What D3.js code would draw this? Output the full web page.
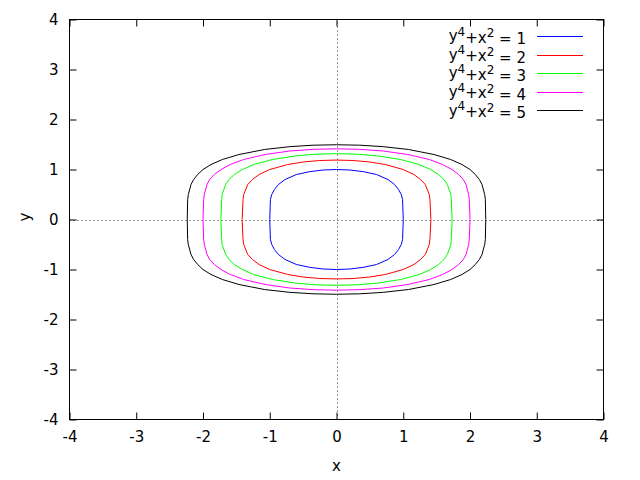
<!DOCTYPE html>
<html><head><meta charset="utf-8">
<script src="https://cdn.jsdelivr.net/npm/d3@7"></script>
<style>body{margin:0;background:#fff}svg{display:block}text{font-family:"DejaVu Sans",sans-serif;font-size:15px;fill:#000}</style>
</head><body>
<script>
// Contour levels (y^4 + x^2 = c)
const levels = [1, 2, 3, 4, 5];
const colors = ["#0000ff", "#ff0000", "#00ff00", "#ff00ff", "#000000"];
const xTicks = [-4, -3, -2, -1, 0, 1, 2, 3, 4];
const yTicks = [-4, -3, -2, -1, 0, 1, 2, 3, 4];
// First-quadrant points of each curve (x, y); curves are symmetric
const q1 = [[1.00,0],[0.99,0.4],[0.97,0.5],[0.93,0.6],[0.87,0.7],[0.77,0.8],[0.6,0.9],[0.4,0.957],[0.2,0.99],[0,1.0]];
const q2 = [[1.414,0],[1.40,0.4],[1.39,0.5],[1.33,0.7],[1.26,0.8],[1.16,0.9],[1.0,1.0],[0.73,1.1],[0.5,1.15],[0.25,1.18],[0,1.189]];
const q3 = [[1.732,0],[1.72,0.4],[1.714,0.5],[1.66,0.7],[1.61,0.8],[1.53,0.9],[1.41,1.0],[1.24,1.1],[0.96,1.2],[0.6,1.275],[0.3,1.306],[0,1.316]];
const q4 = [[2.0,0],[1.99,0.4],[1.98,0.5],[1.94,0.7],[1.90,0.8],[1.83,0.9],[1.73,1.0],[1.59,1.1],[1.39,1.2],[1.07,1.3],[0.7,1.37],[0.35,1.403],[0,1.414]];
const q5 = [[2.236,0],[2.23,0.4],[2.22,0.5],[2.18,0.7],[2.14,0.8],[2.08,0.9],[2.0,1.0],[1.88,1.1],[1.71,1.2],[1.46,1.3],[1.08,1.4],[0.7,1.457],[0.35,1.486],[0,1.495]];
const quadrants = [q1, q2, q3, q4, q5];

const W = 640, H = 480;
const L = 69.5, R = 603.5, T = 19.5, B = 419.5;
const svg = d3.select("body").append("svg").attr("width", W).attr("height", H);
const x = d3.scaleLinear().domain([-4, 4]).range([L, R]);
const y = d3.scaleLinear().domain([-4, 4]).range([B, T]);
const fmt = d => String(d); // plain hyphen-minus like the reference

// zero axes (dotted)
svg.append("line").attr("x1", x(-4)).attr("x2", x(4)).attr("y1", Math.round(y(0)) + 0.5).attr("y2", Math.round(y(0)) + 0.5)
  .attr("stroke", "#000").attr("stroke-width", 1).attr("stroke-dasharray", "1,3").attr("opacity", 0.8);
svg.append("line").attr("y1", y(-4)).attr("y2", y(4)).attr("x1", Math.round(x(0)) + 0.5).attr("x2", Math.round(x(0)) + 0.5)
  .attr("stroke", "#000").attr("stroke-width", 1).attr("stroke-dasharray", "1,3").attr("opacity", 0.8);

// axes with inward ticks
const tl = 7;
const styleText = g => g.selectAll("text").attr("font-size", 15).attr("font-family", "DejaVu Sans, sans-serif");
svg.append("g").attr("transform", `translate(0,${B})`)
  .call(d3.axisBottom(x).tickValues(xTicks).tickSize(-tl).tickPadding(12).tickFormat(fmt))
  .call(g => { g.select(".domain").remove(); styleText(g); });
svg.append("g").attr("transform", `translate(0,${T})`)
  .call(d3.axisTop(x).tickValues(xTicks).tickSize(-tl).tickFormat(""))
  .call(g => g.select(".domain").remove());
svg.append("g").attr("transform", `translate(${L},0)`)
  .call(d3.axisLeft(y).tickValues(yTicks).tickSize(-tl).tickPadding(11).tickFormat(fmt))
  .call(g => { g.select(".domain").remove(); styleText(g); });
svg.append("g").attr("transform", `translate(${R},0)`)
  .call(d3.axisRight(y).tickValues(yTicks).tickSize(-tl).tickFormat(""))
  .call(g => g.select(".domain").remove());
svg.selectAll(".tick line").attr("stroke", "#000");

// frame
svg.append("rect").attr("x", L).attr("y", T).attr("width", R - L).attr("height", B - T)
  .attr("fill", "none").attr("stroke", "#000").attr("stroke-width", 1);

// curves: build closed loop from quadrant points by symmetry
const line = d3.line().x(d => x(d[0])).y(d => y(d[1]));
quadrants.forEach((q, i) => {
  const a = q;
  const b = q.slice().reverse().map(p => [-p[0], p[1]]);
  const c = q.map(p => [-p[0], -p[1]]);
  const d = q.slice().reverse().map(p => [p[0], -p[1]]);
  const pts = a.concat(b.slice(1), c.slice(1), d.slice(1));
  svg.append("path").attr("d", line(pts)).attr("fill", "none")
    .attr("stroke", colors[i]).attr("stroke-width", 1);
});

// legend
const lg = svg.append("g");
levels.forEach((c, i) => {
  const yy = 36 + i * 18.6;
  const t = lg.append("text").attr("x", 526).attr("y", yy).attr("dy", "0.35em").attr("text-anchor", "end");
  t.append("tspan").text("y");
  t.append("tspan").attr("dy", "-0.45em").attr("font-size", 12).text("4");
  t.append("tspan").attr("dy", "0.45em").text("+x");
  t.append("tspan").attr("dy", "-0.45em").attr("font-size", 12).text("2");
  t.append("tspan").attr("dy", "0.45em").text(" = " + c);
  lg.append("line").attr("x1", 537).attr("x2", 583).attr("y1", Math.round(yy) + 0.5).attr("y2", Math.round(yy) + 0.5)
    .attr("stroke", colors[i]).attr("stroke-width", 1);
});

// axis titles
svg.append("text").attr("x", x(0)).attr("y", 466).attr("dy", "0.35em").attr("text-anchor", "middle").text("x");
svg.append("text").attr("transform", "translate(25,217) rotate(-90)").attr("dy", "0.35em").attr("text-anchor", "middle").text("y");
</script>
</body></html>
